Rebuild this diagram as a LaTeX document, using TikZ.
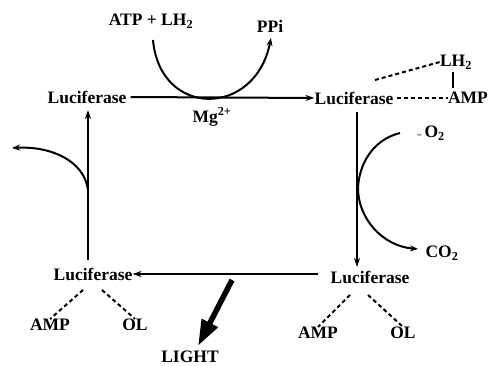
\documentclass[tikz,border=0pt]{standalone}
\usepackage{fontspec}
\setmainfont{Liberation Serif}
\usetikzlibrary{arrows.meta}
\begin{document}
\begin{tikzpicture}[x=1pt,y=-1pt,
  lbl/.style={inner sep=0pt,font=\fontsize{17.5}{19}\selectfont\bfseries},
  rxn/.style={line width=2pt,-{Stealth[length=9pt,width=6pt]}},
  arc/.style={line width=2pt,-{Stealth[length=8pt,width=6pt]}},
  dsh/.style={line width=2pt,dash pattern=on 4pt off 3pt},
  lightarrow/.style={line width=5.5pt,-{Triangle[length=26pt,width=17pt]}}]
\useasboundingbox (0,0) rectangle (492,366);
% nodes
\node[lbl] (atp) at (151,21) {ATP + LH\textsubscript{2}};
\node[lbl] (ppi) at (270,26) {PPi};
\node[lbl] (lucTL) at (87,97) {Luciferase};
\node[lbl] (lucTR) at (354,98) {Luciferase};
\node[lbl] (lucBR) at (370,277) {Luciferase};
\node[lbl] (lucBL) at (93,274) {Luciferase};
\node[lbl] (mg) at (212,117) {Mg\textsuperscript{2+}};
\node[lbl] (lh2) at (456,62) {LH\textsubscript{2}};
\node[lbl] (ampTR) at (468,98) {AMP};
\node[lbl] (o2) at (431,133) {{\small –}\,O\textsubscript{2}};
\node[lbl] (co2) at (442,253) {CO\textsubscript{2}};
\node[lbl] (ampBR) at (318,333) {AMP};
\node[lbl] (olBR) at (403,333) {OL};
\node[lbl] (ampBL) at (50,325) {AMP};
\node[lbl] (olBL) at (135,325) {OL};
\node[lbl] (light) at (190,357) {LIGHT};
% main cycle
\draw[rxn] (lucTL.east) ++(4,0) coordinate (a1) -- (lucTR.west);
\draw[rxn] (lucTR.south) ++(3,8) coordinate (a2) -- (357,267) coordinate (a2e);
\draw[rxn] (lucBR.west) ++(-12,-3) coordinate (a3) -- (lucBL.east);
\draw[rxn] (88,260) coordinate (a4) -- (88,110) coordinate (a4e);
% top arc
\draw[arc] (153,40) .. controls (160,118) and (255,118) .. (271,38) coordinate (ppiend);
% right arc
\draw[line width=2pt] (400,133) .. controls (372,140) and (359,165) .. (358,188)
  coordinate (rmid);
\draw[arc] (rmid) .. controls (358,218) and (382,246) .. (418,249);
% left arc
\draw[arc] (88,190) .. controls (84,160) and (50,146) .. (12,148);
% dashed links
\draw[dsh] (375,80) -- (lh2.west);
\draw[dsh] (lucTR.east) ++(3,0) -- (ampTR.west);
\draw[line width=2pt] (lh2.south) ++(-3,3) -- ++(0,16);
\draw[dsh] (350,295) -- (ampBR.north);
\draw[dsh] (368,295) -- (olBR.north);
\draw[dsh] (83,290) -- (ampBL.north);
\draw[dsh] (102,290) -- (olBL.north);
% light
\draw[lightarrow] (232,280) -- (198,346);
\end{tikzpicture}
\end{document}
